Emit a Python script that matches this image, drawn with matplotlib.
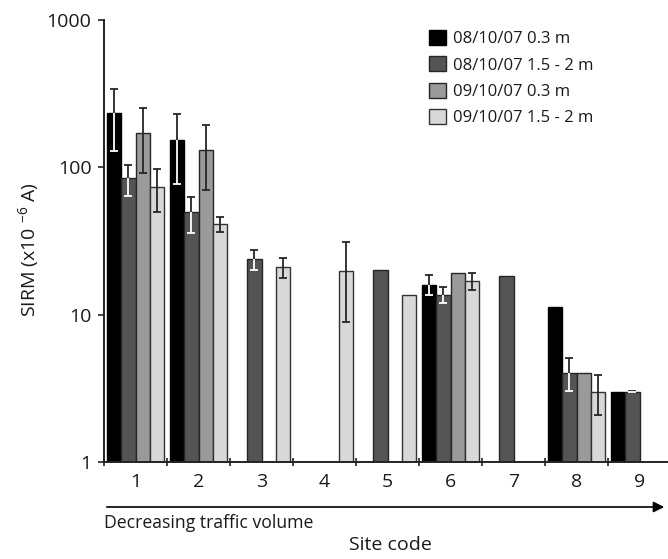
import numpy as np
import matplotlib
matplotlib.use("Agg")
import matplotlib.pyplot as plt
from matplotlib.patches import Patch, FancyArrowPatch

plt.rcParams['font.family'] = ['Open Sans', 'DejaVu Sans']
plt.rcParams['mathtext.fontset'] = 'custom'
plt.rcParams['mathtext.rm'] = 'Open Sans'
plt.rcParams['mathtext.default'] = 'regular'
plt.rcParams['text.color'] = '#1a1a1a'

# ---- data ----
sites = ['1', '2', '3', '4', '5', '6', '7', '8', '9']
series_labels = ['08/10/07 0.3 m', '08/10/07 1.5 - 2 m',
                 '09/10/07 0.3 m', '09/10/07 1.5 - 2 m']
nan = np.nan
a_vals = [235, 153, nan, nan, nan, 16.0, nan, 11.2, 3.0]
a_err = [105, 76, 0, 0, 0, 2.5, 0, 0, 0]
b_vals = [84, 49.5, 23.9, nan, 20.0, 13.7, 18.4, 4.05, 3.0]
b_err = [20, 13.5, 3.7, 0, 0, 1.7, 0, 1.0, 0.03]
c_vals = [171, 132, nan, nan, nan, 19.1, nan, 4.05, nan]
c_err = [80, 62, 0, 0, 0, 0, 0, 0, 0]
d_vals = [74, 41, 21.0, 19.9, 13.6, 16.9, nan, 3.0, nan]
d_err = [24, 4.7, 3.4, 11, 0, 2.2, 0, 0.9, 0]

values = [a_vals, b_vals, c_vals, d_vals]
errors = [a_err, b_err, c_err, d_err]
colors = ['#000000', '#545454', '#9a9a9a', '#d8d8d8']
edges = ['#000000', '#262626', '#262626', '#333333']
inner_err = ['white', 'white', '#262626', '#262626']

W, H = 668, 559
fig = plt.figure(figsize=(W / 100, H / 100), dpi=100)
ax_l, ax_t, ax_b = 104, 20, 462
catw = 63
ax = fig.add_axes([ax_l / W, 1 - ax_b / H, 9 * catw / W, (ax_b - ax_t) / H])
ax.set_yscale('log')

bw = 0.2286
cap = 0.065
n = len(sites)
for j in range(4):
    xs = np.arange(n) + 0.5 + (j - 1.5) * bw
    v = np.array(values[j], dtype=float)
    ax.bar(xs, v, width=bw, color=colors[j], edgecolor=edges[j],
           linewidth=1.0, label=series_labels[j], zorder=2)
    for x, val, e in zip(xs, v, errors[j]):
        if np.isnan(val) or e <= 0:
            continue
        ax.plot([x, x], [val, val + e], color='#262626', lw=1.3, zorder=3,
                solid_capstyle='butt')
        ax.plot([x - cap, x + cap], [val + e, val + e], color='#262626', lw=1.3,
                zorder=3, solid_capstyle='butt')
        ax.plot([x, x], [val - e, val], color=inner_err[j], lw=1.3, zorder=3,
                solid_capstyle='butt')
        ax.plot([x - cap, x + cap], [val - e, val - e], color=inner_err[j], lw=1.3,
                zorder=3, solid_capstyle='butt')

ax.set_ylim(1, 1000)
ax.set_xlim(0, n)
ax.set_yticks([1, 10, 100, 1000])
ax.set_yticklabels(['1', '10', '100', '1000'])
ax.yaxis.set_minor_locator(matplotlib.ticker.NullLocator())
ax.set_xticks(np.arange(0, n + 1))
ax.set_xticklabels([])
ax.set_xticks(np.arange(n) + 0.5, minor=True)
ax.set_xticklabels(sites, minor=True)
ax.tick_params(axis='x', which='major', direction='inout', length=6, width=1.2,
               color='#222222')
ax.tick_params(axis='x', which='minor', length=0, pad=8, labelsize=14,
               labelcolor='#1a1a1a')
ax.tick_params(axis='y', direction='out', length=4, width=1.2, color='#222222',
               pad=5, labelsize=14, labelcolor='#1a1a1a')
for s in ['top', 'right']:
    ax.spines[s].set_visible(False)
for s in ['left', 'bottom']:
    ax.spines[s].set_linewidth(1.4)
    ax.spines[s].set_color('#222222')

fig.text(29 / W, 1 - 250 / H, 'SIRM (x10 $^{-6}$ A)', fontsize=14,
         rotation=90, ha='center', va='center')

handles = [Patch(facecolor=colors[j], edgecolor=edges[j], linewidth=1.0)
           for j in range(4)]
fig.legend(handles, series_labels, loc='upper left',
           bbox_to_anchor=(429 / W, 1 - 30 / H), frameon=False, fontsize=12,
           handlelength=1.0, handleheight=1.0, handletextpad=0.45,
           labelspacing=0.55, borderaxespad=0, borderpad=0)

arrow = FancyArrowPatch((104 / W, 1 - 507 / H), (667 / W, 1 - 507 / H),
                        transform=fig.transFigure, arrowstyle='-|>',
                        mutation_scale=16, lw=1.2, color='black')
fig.add_artist(arrow)
fig.text(104 / W, 1 - 523 / H, 'Decreasing traffic volume', fontsize=12.7,
         ha='left', va='center')
fig.text(390 / W, 1 - 545 / H, 'Site code', fontsize=14, ha='center',
         va='center')

fig.savefig('out.png', dpi=100)
